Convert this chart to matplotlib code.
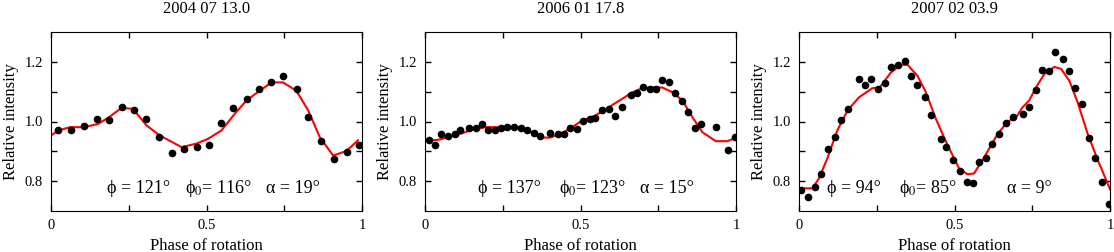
import numpy as np
import matplotlib
matplotlib.use("Agg")
import matplotlib.pyplot as plt

plt.rcParams['font.family'] = ['Liberation Serif', 'DejaVu Serif']
plt.rcParams['mathtext.fontset'] = 'stix'

titles = ["2004 07 13.0", "2006 01 17.8", "2007 02 03.9"]
labels = [
    ("ϕ = 121°", "ϕ$_0$= 116°", "α = 19°"),
    ("ϕ = 137°", "ϕ$_0$= 123°", "α = 15°"),
    ("ϕ = 94°", "ϕ$_0$= 85°", "α = 9°"),
]
label_x = [(0.18, 0.43, 0.69), (0.17, 0.43, 0.69), (0.09, 0.32, 0.67)]

# observed points
obs1_ph = [0.024, 0.064, 0.106, 0.147, 0.187, 0.227, 0.267, 0.307, 0.348, 0.389,
           0.428, 0.469, 0.509, 0.548, 0.586, 0.630, 0.669, 0.709, 0.746, 0.791,
           0.827, 0.868, 0.909, 0.951, 0.990]
obs1_i = [0.973, 0.973, 0.986, 1.007, 1.006, 1.047, 1.040, 1.007, 0.949, 0.893,
          0.907, 0.913, 0.921, 0.994, 1.046, 1.076, 1.109, 1.133, 1.152, 1.109,
          1.014, 0.934, 0.874, 0.898, 0.922]

obs2_ph = [0.013, 0.032, 0.052, 0.075, 0.095, 0.113, 0.142, 0.163, 0.183, 0.202,
           0.224, 0.245, 0.263, 0.286, 0.309, 0.327, 0.351, 0.371, 0.403, 0.427,
           0.446, 0.466, 0.488, 0.509, 0.532, 0.548, 0.568, 0.591, 0.611, 0.632,
           0.661, 0.681, 0.701, 0.724, 0.744, 0.763, 0.783, 0.804, 0.826, 0.845,
           0.867, 0.887, 0.935, 0.973, 0.998]
obs2_i = [0.937, 0.920, 0.959, 0.950, 0.959, 0.972, 0.978, 0.978, 0.992, 0.972,
          0.970, 0.978, 0.983, 0.981, 0.978, 0.972, 0.962, 0.951, 0.962, 0.959,
          0.957, 0.979, 0.974, 1.001, 1.007, 1.011, 1.037, 1.041, 1.018, 1.050,
          1.089, 1.094, 1.114, 1.108, 1.108, 1.139, 1.131, 1.094, 1.068, 1.031,
          0.978, 0.992, 0.981, 0.903, 0.948]

obs3_ph = [0.008, 0.030, 0.050, 0.072, 0.093, 0.116, 0.136, 0.157, 0.193, 0.211,
           0.233, 0.254, 0.277, 0.297, 0.318, 0.341, 0.361, 0.381, 0.405, 0.424,
           0.456, 0.474, 0.496, 0.518, 0.539, 0.560, 0.580, 0.601, 0.622, 0.644,
           0.665, 0.687, 0.719, 0.741, 0.762, 0.782, 0.805, 0.824, 0.848, 0.867,
           0.888, 0.910, 0.931, 0.952, 0.974, 0.997]
obs3_i = [0.770, 0.746, 0.780, 0.823, 0.907, 0.947, 1.006, 1.041, 1.143, 1.123,
          1.143, 1.109, 1.130, 1.183, 1.190, 1.202, 1.152, 1.123, 1.081, 1.023,
          0.942, 0.914, 0.870, 0.834, 0.798, 0.794, 0.864, 0.879, 0.926, 0.959,
          0.994, 1.014, 1.026, 1.048, 1.106, 1.172, 1.170, 1.234, 1.209, 1.170,
          1.111, 1.057, 0.944, 0.876, 0.798, 0.723]

# model curves
mod1_ph = [0.0, 0.024, 0.061, 0.106, 0.152, 0.190, 0.227, 0.264, 0.307, 0.350,
           0.420, 0.468, 0.505, 0.548, 0.591, 0.628, 0.671, 0.709, 0.746, 0.789,
           0.827, 0.864, 0.907, 0.950, 0.987]
mod1_i = [0.953, 0.970, 0.981, 0.981, 0.992, 1.017, 1.046, 1.042, 0.987, 0.953,
          0.914, 0.926, 0.942, 0.970, 1.026, 1.070, 1.103, 1.131, 1.131, 1.103,
          1.037, 0.948, 0.886, 0.901, 0.937]

mod2_ph = [0.0, 0.043, 0.097, 0.151, 0.194, 0.258, 0.306, 0.344, 0.371, 0.403,
           0.441, 0.473, 0.505, 0.548, 0.591, 0.634, 0.667, 0.699, 0.731, 0.763,
           0.796, 0.828, 0.860, 0.892, 0.935, 0.973, 1.0]
mod2_i = [0.934, 0.939, 0.953, 0.972, 0.981, 0.981, 0.980, 0.964, 0.946, 0.946,
          0.961, 0.981, 1.003, 1.020, 1.048, 1.076, 1.098, 1.112, 1.114, 1.114,
          1.098, 1.070, 1.014, 0.964, 0.934, 0.934, 0.946]

mod3_ph = [0.0, 0.011, 0.043, 0.064, 0.091, 0.123, 0.156, 0.193, 0.236, 0.258,
           0.295, 0.328, 0.349, 0.381, 0.408, 0.440, 0.478, 0.515, 0.542, 0.563,
           0.596, 0.639, 0.670, 0.702, 0.719, 0.740, 0.762, 0.789, 0.821, 0.843,
           0.869, 0.896, 0.928, 0.961, 1.0]
mod3_i = [0.773, 0.776, 0.776, 0.809, 0.876, 0.970, 1.037, 1.081, 1.112, 1.112,
          1.164, 1.190, 1.190, 1.153, 1.098, 1.009, 0.920, 0.842, 0.823, 0.826,
          0.881, 0.959, 0.998, 1.020, 1.048, 1.070, 1.114, 1.159, 1.183, 1.176,
          1.137, 1.064, 0.959, 0.870, 0.773]

obs = [(obs1_ph, obs1_i), (obs2_ph, obs2_i), (obs3_ph, obs3_i)]
mods = [(mod1_ph, mod1_i), (mod2_ph, mod2_i), (mod3_ph, mod3_i)]

fig = plt.figure(figsize=(11.14, 2.52), dpi=100)
lefts = [51 / 1114, 425 / 1114, 799 / 1114]

for k in range(3):
    ax = fig.add_axes([lefts[k], 41 / 252, 311 / 1114, 179 / 252])
    ax.plot(mods[k][0], mods[k][1], color='red', lw=1.5, zorder=2)
    ax.plot(obs[k][0], obs[k][1], 'o', color='black', ms=4.5, zorder=3)
    ax.set_xlim(0, 1)
    ax.set_ylim(0.7, 1.3)
    ax.set_xticks([0, 0.25, 0.5, 0.75, 1])
    ax.set_xticklabels(['0', '', '0.5', '', '1'])
    ax.set_yticks([0.8, 0.9, 1.0, 1.1, 1.2])
    ax.set_yticklabels(['0.8', '', '1.0', '', '1.2'])
    ax.tick_params(direction='in', top=True, right=True, length=4, width=1,
                   labelsize=10.5, pad=6)
    for s in ax.spines.values():
        s.set_linewidth(0.8)
    ax.set_title(titles[k], fontsize=12, pad=14)
    ax.set_ylabel("Relative intensity", fontsize=12, labelpad=4)
    ax.set_xlabel("Phase of rotation", fontsize=12, labelpad=4)
    for t, xx in zip(labels[k], label_x[k]):
        ax.text(xx, 0.775, t, fontsize=13, va='center')

fig.savefig("out.png", dpi=100)
